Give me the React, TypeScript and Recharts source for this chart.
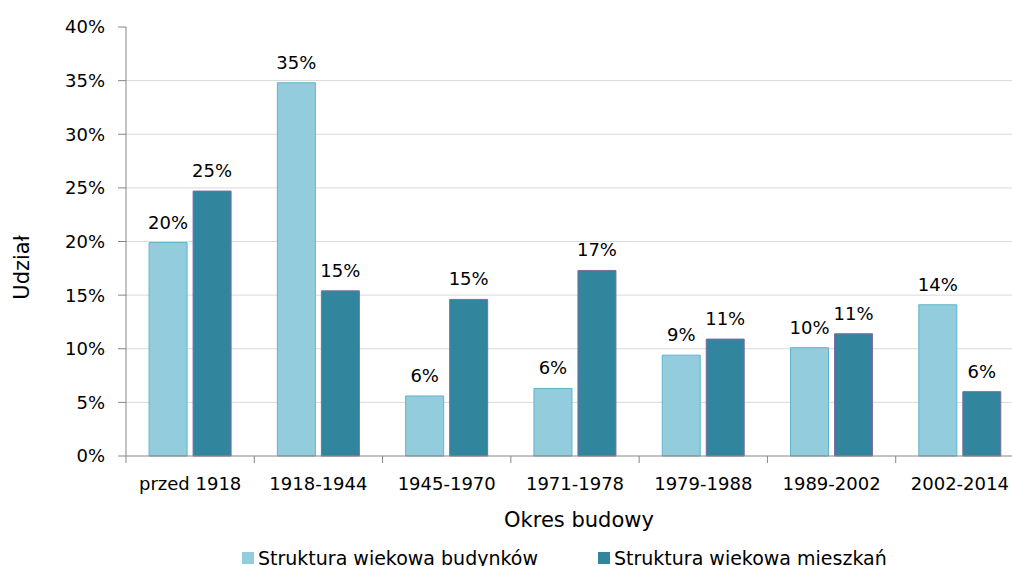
import { BarChart, Bar, XAxis, YAxis, CartesianGrid, Legend, LabelList, Label } from 'recharts';

const categories = ['przed 1918', '1918-1944', '1945-1970', '1971-1978', '1979-1988', '1989-2002', '2002-2014'];
const budynki = [19.9, 34.8, 5.6, 6.3, 9.4, 10.1, 14.1];
const mieszkania = [24.7, 15.4, 14.6, 17.3, 10.9, 11.4, 6.0];
const yTicks = [0, 5, 10, 15, 20, 25, 30, 35, 40];
const seriesNames = ['Struktura wiekowa budynków', 'Struktura wiekowa mieszkań'];

const chartData = categories.map((name, i) => ({
  name,
  budynki: budynki[i],
  mieszkania: mieszkania[i],
}));

const FONT = '"DejaVu Sans", Verdana, sans-serif';
const AXIS_COLOR = '#868686';
const X_TICK_SIZE = 7;
const X_TICK_MARGIN = 14;

const LIGHT = { fill: '#93cddd', stroke: '#5fb3cc' };
const DARK = { fill: '#31859c', stroke: '#7f6ba6' };

// tick marks sit between categories, not under them
function CategoryTick(props: any) {
  const { x, y, payload, index } = props;
  const half = payload && payload.offset ? payload.offset : 64.2;
  const axisY = y - X_TICK_SIZE - X_TICK_MARGIN;
  const last = index === categories.length - 1;
  return (
    <g>
      <line x1={x - half} y1={axisY} x2={x - half} y2={axisY + X_TICK_SIZE} stroke={AXIS_COLOR} />
      {last && <line x1={x + half} y1={axisY} x2={x + half} y2={axisY + X_TICK_SIZE} stroke={AXIS_COLOR} />}
      <text x={x} y={y} dy="0.71em" textAnchor="middle" fontSize={18} fontFamily={FONT} fill="#000">
        {payload.value}
      </text>
    </g>
  );
}

function LegendContent() {
  const items = [
    { name: seriesNames[0], color: LIGHT.fill, width: 356 },
    { name: seriesNames[1], color: DARK.fill, width: 300 },
  ];
  return (
    <div style={{ display: 'flex', paddingLeft: 242, paddingTop: 8, fontFamily: FONT, fontSize: 19, color: '#000' }}>
      {items.map((it) => (
        <div key={it.name} style={{ display: 'flex', alignItems: 'center', width: it.width, whiteSpace: 'nowrap' }}>
          <span style={{ display: 'inline-block', width: 12, height: 12, background: it.color, marginRight: 4 }} />
          <span style={{ lineHeight: '20px' }}>{it.name}</span>
        </div>
      ))}
    </div>
  );
}

export default function App() {
  return (
    <div style={{ position: 'absolute', left: 0, top: 0, width: 1012, height: 566, overflow: 'hidden', background: '#fff' }}>
      <BarChart
        width={1030}
        height={566}
        data={chartData}
        margin={{ top: 27, right: 6, left: 0, bottom: 0 }}
        barGap={6}
        barCategoryGap="18%"
      >
        <CartesianGrid vertical={false} stroke="#d9d9d9" horizontalValues={yTicks.slice(1, -1)} />
        <XAxis
          dataKey="name"
          height={84}
          stroke={AXIS_COLOR}
          tickLine={false}
          tickSize={X_TICK_SIZE}
          tickMargin={X_TICK_MARGIN}
          interval={0}
          tick={<CategoryTick />}
        >
          <Label value="Okres budowy" position="insideBottom" offset={13} dx={4} fontSize={21} fontFamily={FONT} fill="#000" />
        </XAxis>
        <YAxis
          width={126}
          domain={[0, 40]}
          ticks={yTicks}
          stroke={AXIS_COLOR}
          tickSize={8}
          tickMargin={13}
          tickFormatter={(v: number) => `${v}%`}
          tick={{ fontSize: 18, fontFamily: FONT, fill: '#000' }}
        >
          <Label
            content={(p: any) => {
              const vb = p.viewBox;
              const cx = 22;
              const cy = vb.y + vb.height / 2 + 26;
              return (
                <text x={cx} y={cy} transform={`rotate(-90, ${cx}, ${cy})`} textAnchor="middle" dominantBaseline="central" fontSize={21} fontFamily={FONT} fill="#000">
                  Udział
                </text>
              );
            }}
          />
        </YAxis>
        <Legend verticalAlign="bottom" height={26} content={<LegendContent />} />
        <Bar dataKey="budynki" name={seriesNames[0]} fill={LIGHT.fill} stroke={LIGHT.stroke} isAnimationActive={false}>
          <LabelList dataKey="budynki" position="top" offset={14} formatter={(v: number) => `${Math.round(v)}%`} fontSize={18} fontFamily={FONT} fill="#000" />
        </Bar>
        <Bar dataKey="mieszkania" name={seriesNames[1]} fill={DARK.fill} stroke={DARK.stroke} isAnimationActive={false}>
          <LabelList dataKey="mieszkania" position="top" offset={14} formatter={(v: number) => `${Math.round(v)}%`} fontSize={18} fontFamily={FONT} fill="#000" />
        </Bar>
      </BarChart>
    </div>
  );
}
